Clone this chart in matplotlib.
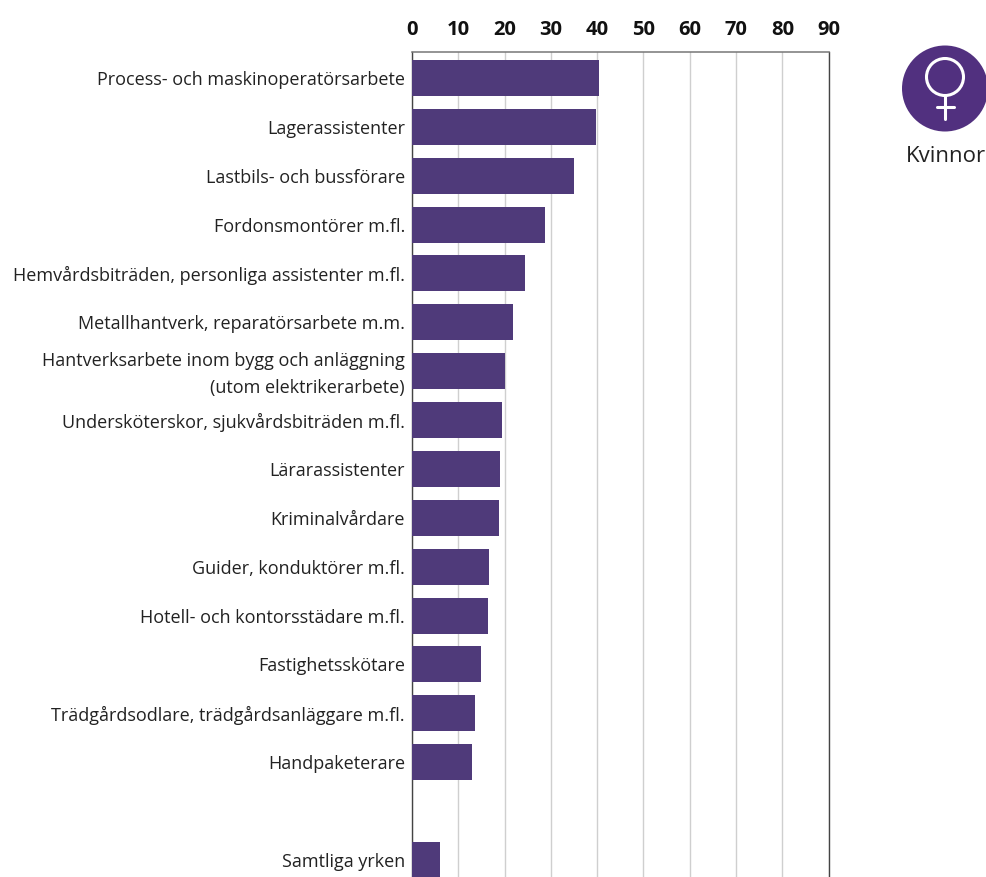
import matplotlib
matplotlib.use("Agg")
import matplotlib.pyplot as plt
from matplotlib.patches import Circle
from matplotlib.transforms import ScaledTranslation

categories = ["Process- och maskinoperatörsarbete", "Lagerassistenter", "Lastbils- och bussförare",
              "Fordonsmontörer m.fl.", "Hemvårdsbiträden, personliga assistenter m.fl.",
              "Metallhantverk, reparatörsarbete m.m.",
              "Hantverksarbete inom bygg och anläggning\n(utom elektrikerarbete)",
              "Undersköterskor, sjukvårdsbiträden m.fl.", "Lärarassistenter", "Kriminalvårdare",
              "Guider, konduktörer m.fl.", "Hotell- och kontorsstädare m.fl.", "Fastighetsskötare",
              "Trädgårdsodlare, trädgårdsanläggare m.fl.", "Handpaketerare", "", "Samtliga yrken"]
values = [40.4, 39.8, 35.0, 28.8, 24.5, 21.9, 20.0, 19.5, 19.0, 18.8, 16.7, 16.5, 14.8, 13.5, 13.0, 0, 6.1]
xticks = list(range(0, 100, 10))

PURPLE = "#4f3a7a"
W, H = 987, 878
plt.rcParams["font.family"] = ["Open Sans", "DejaVu Sans"]
fig = plt.figure(figsize=(W / 100, H / 100), dpi=100)
ax = fig.add_axes([412 / W, 0, (828.7 - 412) / W, (H - 52.7) / H])
ypos = list(range(len(categories)))
ax.set_axisbelow(True)
ax.barh(ypos, values, height=36 / 48.875, color=PURPLE, linewidth=0, zorder=3)
ax.set_xlim(0, 90)
ax.set_ylim(16.35, -0.5376)
ax.xaxis.tick_top()
ax.set_xticks(xticks)
ax.set_xticklabels([str(t) for t in xticks], fontsize=14.5, fontweight="bold", color="#111111")
ax.set_yticks(ypos)
ax.set_yticklabels(categories, fontsize=13.0, color="#222222", linespacing=1.6)
ax.tick_params(axis="both", length=0)
ax.tick_params(axis="y", pad=5)
ax.tick_params(axis="x", pad=9)
for lab in ax.get_yticklabels():
    up = 4 if "\n" in lab.get_text() else 1
    lab.set_transform(lab.get_transform() + ScaledTranslation(0, up / 100, fig.dpi_scale_trans))
ax.grid(axis="x", color="#cfcfcf", linewidth=1.0)
ax.grid(axis="y", visible=False)
ax.spines["top"].set_color("#777777")
ax.spines["top"].set_linewidth(1.1)
for s in ["left", "right"]:
    ax.spines[s].set_color("#444444")
    ax.spines[s].set_linewidth(1.0)
ax.spines["bottom"].set_visible(False)

# icon in pixel coordinates
ov = fig.add_axes([0, 0, 1, 1], facecolor="none")
ov.set_xlim(0, W)
ov.set_ylim(H, 0)
ov.axis("off")
ov.add_patch(Circle((945, 89.5), 43, color="#51307f", linewidth=0))
ov.add_patch(Circle((945, 78), 18.5, facecolor="none", edgecolor="white", linewidth=2.2))
ov.plot([945, 945], [96.5, 120], color="white", lw=2.2, solid_capstyle="round")
ov.plot([937, 953.5], [107.5, 107.5], color="white", lw=2.2, solid_capstyle="round")
ov.text(945.5, 156, "Kvinnor", ha="center", va="center", fontsize=16, color="#222222")
fig.savefig("out.png", dpi=100)
